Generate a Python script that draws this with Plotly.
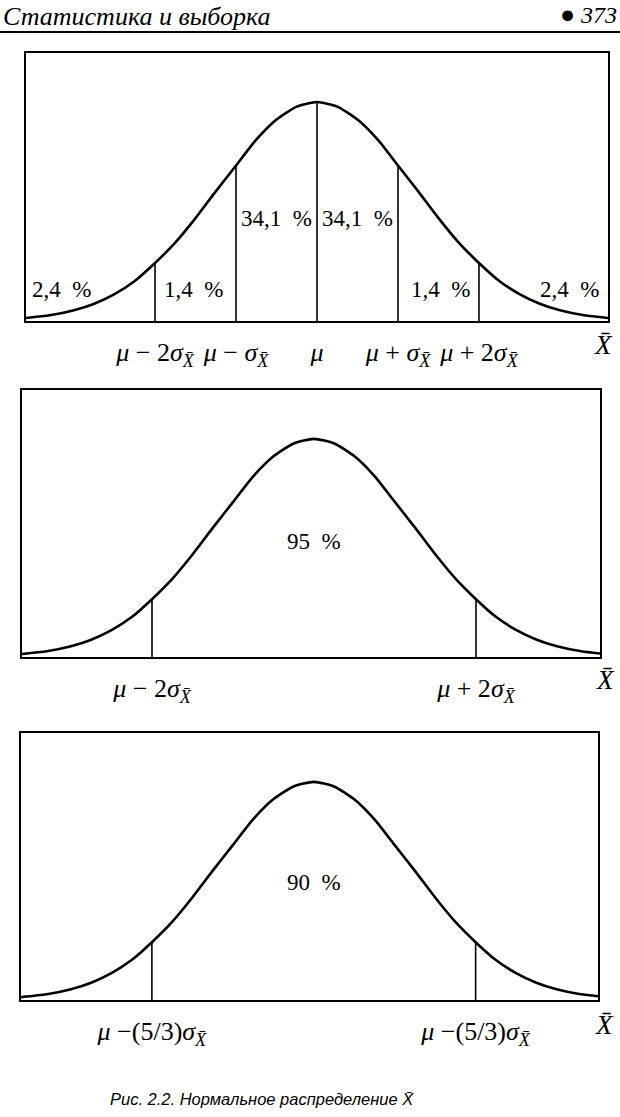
import plotly.graph_objects as go

# ---------------- data ----------------
# bell curve: x in units of the marked sigma spacing, height relative to the peak
curve_x = [-3.7, -3.3, -3.0, -2.75, -2.5, -2.25, -2.0, -1.75, -1.5, -1.25, -1.0, -0.75,
           -0.5, -0.25, 0.0, 0.25, 0.5, 0.75, 1.0, 1.25, 1.5, 1.75, 2.0, 2.25, 2.5,
           2.75, 3.0, 3.3, 3.7]
curve_y = [0.010, 0.026, 0.049, 0.079, 0.123, 0.183, 0.265, 0.358, 0.470, 0.592, 0.710,
           0.828, 0.920, 0.979, 1.000, 0.979, 0.920, 0.828, 0.710, 0.592, 0.470, 0.358,
           0.265, 0.183, 0.123, 0.079, 0.049, 0.026, 0.010]

# panel 1
p1_marks = [-2, -1, 0, 1, 2]
p1_heights = [0.265, 0.710, 1.000, 0.710, 0.265]
p1_ticks = ["<i>μ</i> − 2<i>σ</i><sub><i>X̄</i></sub>",
            "<i>μ</i> − <i>σ</i><sub><i>X̄</i></sub>",
            "<i>μ</i>",
            "<i>μ</i> + <i>σ</i><sub><i>X̄</i></sub>",
            "<i>μ</i> + 2<i>σ</i><sub><i>X̄</i></sub>"]
p1_pct = ["2,4\u2002%", "1,4\u2002%", "34,1\u2002%", "34,1\u2002%", "1,4\u2002%", "2,4\u2002%"]

# panel 2
p2_marks = [-2, 2]
p2_heights = [0.265, 0.265]
p2_ticks = ["<i>μ</i> − 2<i>σ</i><sub><i>X̄</i></sub>",
            "<i>μ</i> + 2<i>σ</i><sub><i>X̄</i></sub>"]
p2_pct = "95\u2002%"

# panel 3
p3_marks = [-2, 2]
p3_heights = [0.265, 0.265]
p3_ticks = ["<i>μ</i> −(5/3)<i>σ</i><sub><i>X̄</i></sub>",
            "<i>μ</i> −(5/3)<i>σ</i><sub><i>X̄</i></sub>"]
p3_pct = "90\u2002%"

header_text = "Статистика и выборка"
page_number = "373"
caption = "Рис. 2.2. Нормальное распределение <i>X̄</i>"

# ---------------- layout geometry ----------------
W, H = 620, 1117
SERIF = "Liberation Serif, Times New Roman, serif"
SANS = "Liberation Sans, Arial, sans-serif"


def px_x(v):
    return v / W


def px_y(v):
    return 1 - v / H


panels = [
    dict(box=(26, 608, 53, 321), xr=(-3.593, 3.593), marks=p1_marks, heights=p1_heights,
         ticks=p1_ticks, xbar=(603, 345)),
    dict(box=(22, 600, 390, 657), xr=(-3.605, 3.531), marks=p2_marks, heights=p2_heights,
         ticks=p2_ticks, xbar=(605, 680)),
    dict(box=(21, 598, 733, 1000), xr=(-3.617, 3.512), marks=p3_marks, heights=p3_heights,
         ticks=p3_ticks, xbar=(604, 1025)),
]
YTOP = 1.224

fig = go.Figure()
layout = dict(width=W, height=H, autosize=False,
              margin=dict(l=0, r=0, t=0, b=0),
              paper_bgcolor="white", plot_bgcolor="white", showlegend=False)

annotations = []
for i, p in enumerate(panels, start=1):
    xa = "x" if i == 1 else f"x{i}"
    ya = "y" if i == 1 else f"y{i}"
    x0, x1, y0, y1 = p["box"]
    # curve
    fig.add_trace(go.Scatter(x=curve_x, y=curve_y, mode="lines",
                             line=dict(color="black", width=2.6, shape="spline", smoothing=0.6),
                             xaxis=xa, yaxis=ya, hoverinfo="skip"))
    # vertical markers from the baseline up to the curve
    vx, vy = [], []
    for m, h in zip(p["marks"], p["heights"]):
        vx += [m, m, None]
        vy += [0, h, None]
    fig.add_trace(go.Scatter(x=vx, y=vy, mode="lines",
                             line=dict(color="black", width=1.6),
                             xaxis=xa, yaxis=ya, hoverinfo="skip"))
    axis_common = dict(showline=True, linecolor="black", linewidth=2, mirror=True,
                       showgrid=False, zeroline=False)
    layout["xaxis" if i == 1 else f"xaxis{i}"] = dict(
        domain=[px_x(x0), px_x(x1)], range=list(p["xr"]), anchor=ya,
        tickmode="array", tickvals=p["marks"], ticktext=p["ticks"],
        ticks="outside", ticklen=7, tickcolor="rgba(0,0,0,0)",
        tickfont=dict(family=SERIF, size=26, color="black"), **axis_common)
    layout["yaxis" if i == 1 else f"yaxis{i}"] = dict(
        domain=[px_y(y1), px_y(y0)], range=[0, YTOP], anchor=xa,
        showticklabels=False, ticks="", **axis_common)
    # X-bar label at the right end
    annotations.append(dict(x=px_x(p["xbar"][0]), y=px_y(p["xbar"][1]), xref="paper", yref="paper",
                            text="<i>X̄</i>", showarrow=False, xanchor="center", yanchor="middle",
                            font=dict(family=SERIF, size=27, color="black")))

# percentage labels, panel 1
pct_pos_1 = [(-3.15, 0.146), (-1.52, 0.146), (-0.5, 0.466), (0.5, 0.466), (1.52, 0.146), (3.12, 0.146)]
for t, (x, y) in zip(p1_pct, pct_pos_1):
    annotations.append(dict(x=x, y=y, xref="x", yref="y", text=t, showarrow=False,
                            font=dict(family=SERIF, size=23, color="black")))
annotations.append(dict(x=0, y=0.53, xref="x2", yref="y2", text=p2_pct, showarrow=False,
                        font=dict(family=SERIF, size=23, color="black")))
annotations.append(dict(x=0, y=0.54, xref="x3", yref="y3", text=p3_pct, showarrow=False,
                        font=dict(family=SERIF, size=23, color="black")))

# page header
annotations.append(dict(x=px_x(1), y=px_y(16), xref="paper", yref="paper", text=f"<i>{header_text}</i>",
                        showarrow=False, xanchor="left", yanchor="middle",
                        font=dict(family=SERIF, size=26, color="black")))
annotations.append(dict(x=px_x(619), y=px_y(15), xref="paper", yref="paper",
                        text=f"<span style='font-size:25px'>●</span> <i>{page_number}</i>",
                        showarrow=False, xanchor="right", yanchor="middle",
                        font=dict(family=SERIF, size=24, color="black")))
# caption
annotations.append(dict(x=px_x(262), y=px_y(1099), xref="paper", yref="paper", text=f"<i>{caption}</i>",
                        showarrow=False, xanchor="center", yanchor="middle",
                        font=dict(family=SANS, size=16.5, color="black")))

layout["annotations"] = annotations
layout["shapes"] = [dict(type="line", xref="paper", yref="paper", x0=0, x1=1,
                         y0=px_y(32), y1=px_y(32), line=dict(color="black", width=1.8))]

fig.update_layout(**layout)
fig.write_html("out.html",
               config={"displayModeBar": False, "staticPlot": True},
               post_script="document.body.style.margin='0';document.body.style.overflow='hidden';")
